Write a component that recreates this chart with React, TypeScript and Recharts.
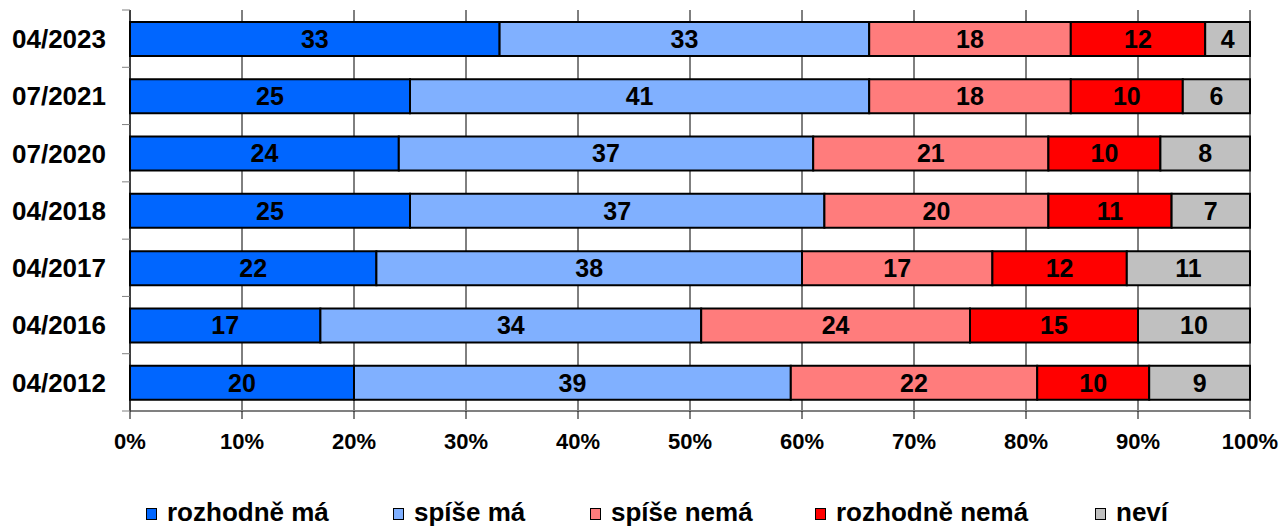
import {
  Bar,
  BarChart,
  CartesianGrid,
  LabelList,
  XAxis,
  YAxis,
} from "recharts";

const categories = ["04/2023", "07/2021", "07/2020", "04/2018", "04/2017", "04/2016", "04/2012"];

const rozhodneMa = [33, 25, 24, 25, 22, 17, 20];
const spiseMa = [33, 41, 37, 37, 38, 34, 39];
const spiseNema = [18, 18, 21, 20, 17, 24, 22];
const rozhodneNema = [12, 10, 10, 11, 12, 15, 10];
const nevi = [4, 6, 8, 7, 11, 10, 9];

const xTicks = [0, 10, 20, 30, 40, 50, 60, 70, 80, 90, 100];

const series = [
  { key: "rozhodneMa", name: "rozhodně má", color: "#0066FF", values: rozhodneMa },
  { key: "spiseMa", name: "spíše má", color: "#80B0FF", values: spiseMa },
  { key: "spiseNema", name: "spíše nemá", color: "#FF7C7C", values: spiseNema },
  { key: "rozhodneNema", name: "rozhodně nemá", color: "#FF0000", values: rozhodneNema },
  { key: "nevi", name: "neví", color: "#C0C0C0", values: nevi },
];

// legend item left edges (layout only)
const legendLeft = [146, 393, 590, 815, 1095];

const data = categories.map((c, i) => {
  const row: Record<string, string | number> = { label: c };
  series.forEach((s) => {
    row[s.key] = s.values[i];
  });
  return row;
});

const W = 1282;
const H = 528;
const TOP = 10;
const X_AXIS_H = 45;
const BOTTOM = 72;
const PLOT_H = H - TOP - BOTTOM - X_AXIS_H;
const BAND = PLOT_H / categories.length;
const FONT = "'Liberation Sans', Arial, sans-serif";

const CategoryTick = (props: any) => {
  const { x, y, payload, index } = props;
  const axisX = x + 24;
  return (
    <g>
      <line x1={axisX - 8} x2={axisX} y1={y - BAND / 2} y2={y - BAND / 2} stroke="#808080" />
      {index === categories.length - 1 && (
        <line x1={axisX - 8} x2={axisX} y1={y + BAND / 2} y2={y + BAND / 2} stroke="#808080" />
      )}
      <text
        x={x}
        y={y}
        dy="0.36em"
        textAnchor="end"
        fontFamily={FONT}
        fontWeight="bold"
        fontSize={26}
        fill="#000"
      >
        {payload.value}
      </text>
    </g>
  );
};

export default function App() {
  return (
    <div style={{ position: "absolute", left: 0, top: 0, width: W, height: H, overflow: "hidden", background: "#fff" }}>
      <BarChart
        width={W}
        height={H}
        data={data}
        layout="vertical"
        margin={{ top: TOP, right: 32, left: 0, bottom: BOTTOM }}
        barSize={34}
      >
        <CartesianGrid vertical horizontal={false} stroke="#000" strokeWidth={1} />
        <XAxis
          type="number"
          domain={[0, 100]}
          ticks={xTicks}
          tickFormatter={(v) => `${v}%`}
          interval={0}
          height={X_AXIS_H}
          axisLine={{ stroke: "#808080", strokeWidth: 2 }}
          tickLine={{ stroke: "#000" }}
          tickSize={8}
          tickMargin={14}
          tick={{ fill: "#000", fontSize: 22, fontWeight: "bold", fontFamily: FONT }}
        />
        <XAxis
          xAxisId="top"
          type="number"
          orientation="top"
          domain={[0, 100]}
          height={0}
          tick={false}
          tickLine={false}
          axisLine={{ stroke: "#000" }}
        />
        <YAxis
          type="category"
          dataKey="label"
          width={130}
          axisLine={{ stroke: "#000" }}
          tickLine={false}
          tickSize={0}
          tickMargin={24}
          interval={0}
          tick={<CategoryTick />}
        />
        {series.map((s) => (
          <Bar
            key={s.key}
            dataKey={s.key}
            name={s.name}
            stackId="a"
            fill={s.color}
            stroke="#000"
            strokeWidth={2}
            isAnimationActive={false}
          >
            <LabelList
              dataKey={s.key}
              position="center"
              fill="#000"
              fontSize={25}
              fontWeight="bold"
              fontFamily={FONT}
            />
          </Bar>
        ))}
      </BarChart>
      {series.map((s, i) => (
        <div
          key={s.key}
          style={{
            position: "absolute",
            left: legendLeft[i],
            top: 498,
            display: "flex",
            alignItems: "center",
            fontFamily: FONT,
            fontWeight: "bold",
            fontSize: 26,
            lineHeight: "28px",
            whiteSpace: "nowrap",
          }}
        >
          <span
            style={{
              display: "inline-block",
              width: 11,
              height: 12,
              boxSizing: "border-box",
              border: "1.5px solid #000",
              background: s.color,
              marginRight: 10,
              marginTop: 3,
            }}
          />
          <span>{s.name}</span>
        </div>
      ))}
    </div>
  );
}
